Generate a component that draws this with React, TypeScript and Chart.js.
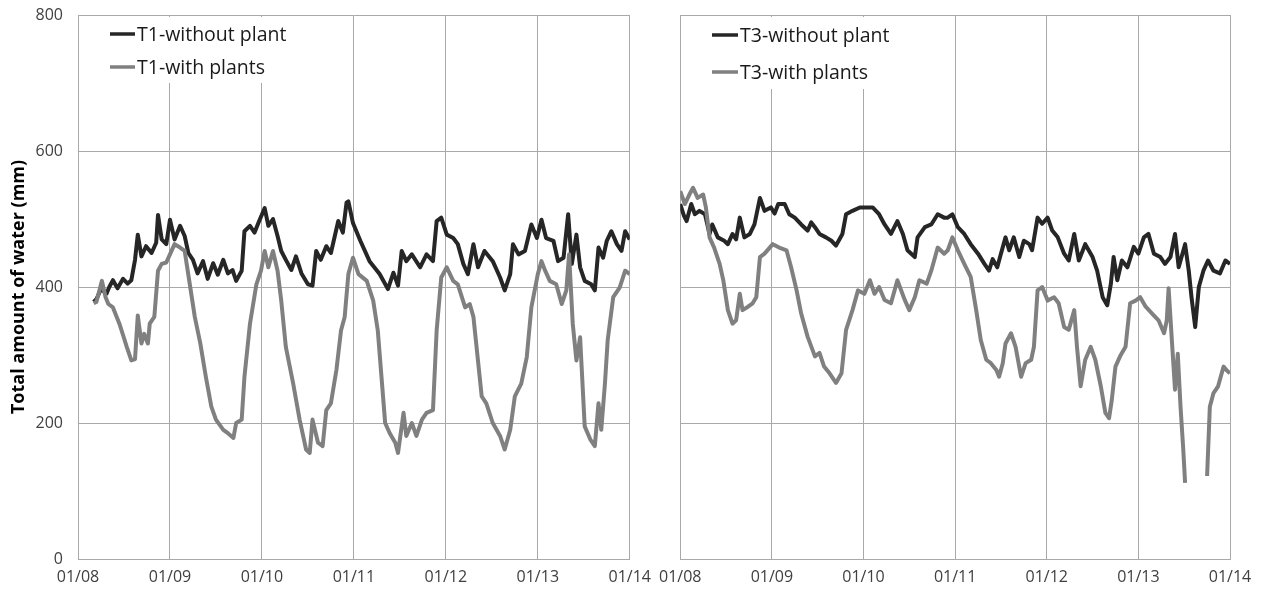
import React, { useEffect, useRef } from 'react';
import { Chart, registerables } from 'chart.js';

Chart.register(...registerables);

// ---------- data ----------
const dateLabels = ['01/08', '01/09', '01/10', '01/11', '01/12', '01/13', '01/14'];
const yTitle = 'Total amount of water (mm)';
const t1Names = ['T1-without plant', 'T1-with plants'];
const t3Names = ['T3-without plant', 'T3-with plants'];

// [day offset from 01/08, total amount of water (mm)]
const t1WithoutPlant: [number, number | null][] = [
  [0.17, 378], [0.20, 382], [0.25, 397], [0.31, 390], [0.34, 400], [0.38, 410], [0.43, 398], [0.49, 412],
  [0.54, 405], [0.58, 410], [0.62, 440], [0.65, 477], [0.69, 445], [0.74, 460], [0.80, 450], [0.85, 465],
  [0.87, 506], [0.91, 470], [0.96, 463], [1.00, 499], [1.05, 470], [1.11, 490], [1.16, 475], [1.20, 450],
  [1.25, 440], [1.30, 420], [1.36, 438], [1.41, 412], [1.47, 435], [1.52, 418], [1.58, 440], [1.63, 420],
  [1.68, 425], [1.72, 409], [1.78, 424], [1.81, 482], [1.87, 490], [1.92, 480], [1.97, 497], [2.03, 516],
  [2.07, 490], [2.12, 500], [2.17, 475], [2.21, 453], [2.26, 440], [2.32, 425], [2.37, 445], [2.43, 420],
  [2.50, 404], [2.55, 402], [2.59, 453], [2.64, 440], [2.70, 460], [2.75, 450], [2.83, 497], [2.88, 480],
  [2.92, 524], [2.94, 526], [2.99, 494], [3.07, 468], [3.17, 438], [3.28, 419], [3.37, 397], [3.43, 421],
  [3.48, 402], [3.52, 453], [3.57, 438], [3.63, 448], [3.72, 429], [3.79, 448], [3.86, 438], [3.90, 497],
  [3.95, 502], [4.01, 477], [4.08, 472], [4.13, 463], [4.19, 434], [4.24, 419], [4.30, 463], [4.35, 429],
  [4.42, 453], [4.51, 438], [4.59, 414], [4.64, 395], [4.70, 419], [4.73, 463], [4.79, 448], [4.86, 453],
  [4.93, 492], [4.99, 472], [5.04, 499], [5.09, 472], [5.17, 468], [5.22, 438], [5.28, 443], [5.33, 507],
  [5.37, 434], [5.42, 477], [5.46, 429], [5.51, 409], [5.58, 404], [5.62, 395], [5.66, 458], [5.71, 443],
  [5.75, 468], [5.80, 482], [5.86, 463], [5.91, 453], [5.95, 482], [6.00, 470],
];

const t1WithPlants: [number, number | null][] = [
  [0.17, 376], [0.20, 378], [0.26, 409], [0.30, 385], [0.33, 375], [0.38, 370], [0.45, 346], [0.50, 325],
  [0.53, 312], [0.58, 292], [0.62, 294], [0.65, 358], [0.69, 317], [0.72, 331], [0.76, 317], [0.78, 346],
  [0.83, 356], [0.87, 424], [0.91, 434], [0.96, 436], [1.00, 448], [1.05, 463], [1.11, 458], [1.16, 453],
  [1.21, 409], [1.27, 356], [1.33, 317], [1.39, 268], [1.45, 224], [1.50, 205], [1.58, 190], [1.63, 185],
  [1.69, 178], [1.72, 200], [1.78, 205], [1.81, 268], [1.87, 346], [1.94, 404], [1.99, 424], [2.03, 453],
  [2.07, 429], [2.12, 453], [2.17, 424], [2.21, 380], [2.26, 312], [2.34, 258], [2.41, 205], [2.48, 161],
  [2.52, 156], [2.55, 205], [2.61, 171], [2.66, 166], [2.70, 219], [2.75, 229], [2.81, 278], [2.86, 336],
  [2.90, 356], [2.94, 419], [2.99, 443], [3.05, 419], [3.14, 409], [3.21, 380], [3.26, 336], [3.30, 268],
  [3.34, 200], [3.39, 185], [3.45, 171], [3.48, 156], [3.54, 215], [3.57, 181], [3.63, 200], [3.68, 181],
  [3.74, 205], [3.79, 215], [3.86, 219], [3.90, 336], [3.95, 414], [4.01, 429], [4.08, 409], [4.13, 404],
  [4.21, 370], [4.26, 375], [4.30, 356], [4.33, 317], [4.39, 239], [4.44, 229], [4.51, 200], [4.59, 181],
  [4.64, 161], [4.70, 190], [4.75, 239], [4.82, 258], [4.88, 297], [4.93, 370], [5.00, 419], [5.04, 438],
  [5.08, 424], [5.13, 409], [5.20, 404], [5.26, 375], [5.31, 395], [5.34, 448], [5.38, 346], [5.42, 292],
  [5.46, 326], [5.51, 195], [5.57, 176], [5.62, 166], [5.66, 229], [5.69, 190], [5.73, 258], [5.76, 322],
  [5.82, 385], [5.89, 399], [5.95, 424], [6.00, 419],
];

const t3WithoutPlant: [number, number | null][] = [
  [0.00, 522], [0.04, 505], [0.07, 497], [0.12, 522], [0.16, 507], [0.21, 512], [0.27, 507], [0.32, 478],
  [0.35, 492], [0.41, 473], [0.48, 468], [0.52, 463], [0.57, 478], [0.61, 470], [0.65, 502], [0.70, 473],
  [0.76, 478], [0.81, 492], [0.87, 531], [0.92, 512], [0.99, 517], [1.03, 508], [1.07, 522], [1.14, 522],
  [1.19, 507], [1.25, 502], [1.32, 492], [1.39, 483], [1.43, 495], [1.47, 488], [1.52, 478], [1.59, 473],
  [1.65, 468], [1.70, 461], [1.77, 478], [1.81, 507], [1.88, 512], [1.96, 517], [2.03, 517], [2.10, 517],
  [2.17, 507], [2.23, 492], [2.30, 478], [2.37, 497], [2.43, 478], [2.48, 454], [2.56, 444], [2.59, 473],
  [2.67, 488], [2.74, 492], [2.81, 507], [2.88, 502], [2.92, 502], [2.97, 507], [3.03, 488], [3.10, 478],
  [3.17, 463], [3.25, 449], [3.32, 434], [3.37, 424], [3.41, 441], [3.46, 429], [3.50, 449], [3.55, 473],
  [3.59, 454], [3.64, 473], [3.70, 444], [3.75, 468], [3.81, 463], [3.84, 454], [3.90, 502], [3.95, 493],
  [4.01, 502], [4.06, 483], [4.12, 473], [4.19, 449], [4.24, 439], [4.30, 478], [4.35, 439], [4.42, 463],
  [4.50, 444], [4.55, 424], [4.61, 385], [4.66, 373], [4.70, 405], [4.73, 444], [4.77, 410], [4.82, 439],
  [4.88, 429], [4.95, 459], [5.00, 449], [5.06, 473], [5.11, 478], [5.17, 449], [5.24, 444], [5.29, 434],
  [5.35, 444], [5.40, 478], [5.44, 429], [5.51, 463], [5.55, 424], [5.58, 385], [5.62, 341], [5.66, 400],
  [5.71, 424], [5.76, 439], [5.82, 424], [5.89, 420], [5.95, 439], [6.00, 434],
];

const t3WithPlants: [number, number | null][] = [
  [0.00, 541], [0.05, 522], [0.10, 536], [0.14, 546], [0.19, 531], [0.25, 536], [0.28, 517], [0.32, 473],
  [0.37, 458], [0.43, 434], [0.47, 410], [0.52, 366], [0.57, 346], [0.61, 351], [0.65, 390], [0.68, 366],
  [0.74, 371], [0.79, 376], [0.83, 385], [0.87, 444], [0.92, 449], [1.01, 463], [1.08, 458], [1.16, 454],
  [1.21, 429], [1.27, 395], [1.32, 361], [1.39, 327], [1.47, 298], [1.52, 303], [1.57, 283], [1.63, 273],
  [1.70, 259], [1.76, 273], [1.81, 337], [1.88, 366], [1.94, 395], [2.01, 390], [2.07, 410], [2.12, 390],
  [2.17, 400], [2.23, 381], [2.30, 376], [2.37, 410], [2.45, 381], [2.50, 366], [2.56, 385], [2.61, 410],
  [2.69, 405], [2.74, 424], [2.81, 458], [2.88, 449], [2.92, 454], [2.97, 473], [3.03, 454], [3.10, 434],
  [3.17, 415], [3.23, 366], [3.28, 322], [3.34, 293], [3.39, 288], [3.45, 278], [3.48, 268], [3.52, 288],
  [3.55, 317], [3.61, 332], [3.66, 312], [3.72, 268], [3.77, 288], [3.83, 293], [3.86, 312], [3.90, 395],
  [3.95, 400], [4.01, 380], [4.08, 385], [4.13, 376], [4.19, 341], [4.24, 337], [4.30, 366], [4.33, 312],
  [4.37, 254], [4.42, 293], [4.48, 312], [4.53, 293], [4.59, 254], [4.64, 215], [4.68, 207], [4.71, 234],
  [4.75, 283], [4.80, 298], [4.86, 312], [4.91, 376], [4.97, 380], [5.02, 385], [5.08, 371], [5.15, 361],
  [5.22, 351], [5.28, 332], [5.31, 351], [5.33, 398], [5.37, 312], [5.40, 249], [5.43, 302], [5.46, 224],
  [5.49, 161], [5.51, 112], [5.62, null], [5.75, 122], [5.78, 224], [5.82, 244], [5.87, 254], [5.93, 283],
  [5.96, 278], [6.00, 273],
];

// ---------- styling ----------
const FONT = "'Open Sans', 'Noto Sans', sans-serif";
const GRID = '#a9a9a9';
const DARK = '#262626';
const GRAY = '#808080';

const insideLegend = {
  id: 'insideLegend',
  beforeDatasetsDraw(chart: any, _args: any, opts: any) {
    const { ctx } = chart;
    ctx.save();
    ctx.fillStyle = '#ffffff';
    ctx.fillRect(opts.box[0], opts.box[1], opts.box[2], opts.box[3]);
    chart.data.datasets.forEach((ds: any, i: number) => {
      const y = opts.rows[i];
      ctx.strokeStyle = ds.borderColor;
      ctx.lineWidth = 3.5;
      ctx.beginPath();
      ctx.moveTo(opts.lineX, y);
      ctx.lineTo(opts.lineX + opts.lineLen, y);
      ctx.stroke();
      ctx.fillStyle = '#1a1a1a';
      ctx.font = `19.5px ${FONT}`;
      ctx.textBaseline = 'middle';
      ctx.textAlign = 'left';
      ctx.fillText(ds.label, opts.lineX + opts.lineLen + 2, y + 1);
    });
    ctx.restore();
  },
};

const toPoints = (arr: [number, number | null][]) => arr.map(([x, y]) => ({ x, y }));

function makeChart(
  canvas: HTMLCanvasElement,
  names: string[],
  without: [number, number | null][],
  withP: [number, number | null][],
  opt: { showY: boolean; yWidth: number; padRight: number; legend: any }
) {
  return new Chart(canvas, {
    type: 'line',
    data: {
      datasets: [
        {
          label: names[0],
          data: toPoints(without) as any,
          borderColor: DARK,
          borderWidth: 4,
          pointRadius: 0,
          tension: 0,
          borderJoinStyle: 'round',
          order: 1,
        },
        {
          label: names[1],
          data: toPoints(withP) as any,
          borderColor: GRAY,
          borderWidth: 4,
          pointRadius: 0,
          tension: 0,
          borderJoinStyle: 'round',
          spanGaps: false,
          order: 0,
        },
      ],
    },
    options: {
      responsive: false,
      animation: false,
      events: [],
      layout: { padding: { top: 15, right: opt.padRight, bottom: 0, left: 0 } },
      plugins: {
        legend: { display: false },
        tooltip: { enabled: false },
        insideLegend: opt.legend,
      } as any,
      scales: {
        x: {
          type: 'linear',
          min: 0,
          max: 6,
          ticks: {
            stepSize: 1,
            autoSkip: false,
            maxRotation: 0,
            padding: 9,
            color: '#404040',
            font: { family: FONT, size: 16 },
            callback: (v: any) => dateLabels[Math.round(Number(v))] ?? '',
          },
          grid: { color: GRID, lineWidth: 1, drawTicks: false },
          border: { color: GRID, width: 1 },
          afterFit: (s: any) => {
            s.height = 35;
          },
        },
        y: {
          min: 0,
          max: 800,
          ticks: {
            stepSize: 200,
            display: opt.showY,
            padding: 15,
            color: '#404040',
            font: { family: FONT, size: 16 },
          },
          grid: { color: GRID, lineWidth: 1, drawTicks: false },
          border: { color: GRID, width: 1 },
          title: {
            display: opt.showY,
            text: yTitle,
            color: '#000000',
            font: { family: FONT, size: 18, weight: 'bold' },
            padding: { top: 8, bottom: 0 },
          },
          afterFit: (s: any) => {
            s.width = opt.yWidth;
            s.paddingTop = 0;
            s.paddingBottom = 0;
          },
        },
      },
    },
    plugins: [insideLegend],
  } as any);
}

export default function App() {
  const leftRef = useRef<HTMLCanvasElement>(null);
  const rightRef = useRef<HTMLCanvasElement>(null);

  useEffect(() => {
    const left = makeChart(leftRef.current!, t1Names, t1WithoutPlant, t1WithPlants, {
      showY: true,
      yWidth: 78,
      padRight: 30,
      legend: { box: [92, 17, 205, 66], lineX: 110, lineLen: 25, rows: [34, 67] },
    });
    const right = makeChart(rightRef.current!, t3Names, t3WithoutPlant, t3WithPlants, {
      showY: false,
      yWidth: 29,
      padRight: 36,
      legend: { box: [42, 17, 205, 72], lineX: 62, lineLen: 26, rows: [35, 72] },
    });
    return () => {
      left.destroy();
      right.destroy();
    };
  }, []);

  return (
    <div style={{ position: 'fixed', left: 0, top: 0, width: 1266, height: 594, background: '#ffffff' }}>
      <canvas
        ref={leftRef}
        width={660}
        height={594}
        style={{ position: 'absolute', left: 0, top: 0, width: 660, height: 594 }}
      />
      <canvas
        ref={rightRef}
        width={616}
        height={594}
        style={{ position: 'absolute', left: 650, top: 0, width: 616, height: 594 }}
      />
    </div>
  );
}
